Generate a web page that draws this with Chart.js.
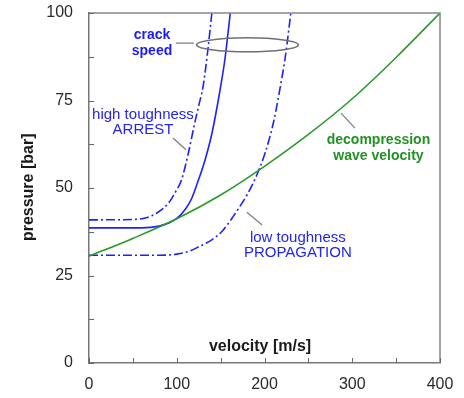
<!DOCTYPE html>
<html><head><meta charset="utf-8">
<script src="https://cdn.jsdelivr.net/npm/chart.js@4/dist/chart.umd.min.js"></script>
<style>html,body{margin:0;padding:0;background:#fff;}canvas{display:block;}</style>
</head><body>
<canvas id="c" width="464" height="398"></canvas>
<script>
// ---- data ----
const greenX = [0, 50, 100, 150, 200, 250, 300, 350, 400];
const greenY = [30.5, 35.6, 41.2, 48, 56.2, 65.3, 75.5, 87.3, 100];

const solidX = [0, 60, 80, 90, 100, 110, 117, 125, 132, 140, 149, 155, 161];
const solidY = [38.6, 38.6, 39.1, 39.9, 41.3, 44, 47, 52.5, 57.8, 65.5, 77.5, 87, 100];

const upperX = [0, 50, 65, 77, 90, 100, 105, 110, 115, 120, 125, 130, 135, 140];
const upperY = [40.9, 41, 41.5, 42.8, 45.5, 49.5, 52, 56.5, 62, 68, 73.5, 79, 88.5, 100];

const lowerX = [0, 80, 100, 115, 125, 140, 150, 160, 170, 180, 190, 200, 210, 217, 224, 230];
const lowerY = [30.8, 30.8, 31.1, 32, 33.2, 35.2, 37.2, 40.3, 44, 48, 53, 59.5, 68.5, 77.5, 88, 100];

const xTickLabels = [0, 100, 200, 300, 400];
const yTickLabels = [0, 25, 50, 75, 100];

// annotations (data units)
const notes = [
  {lines: ['crack', 'speed'], x: 71.8, y: [93.7, 89.0], color: '#1a1aff', bold: true, size: 14},
  {lines: ['high toughness', 'ARREST'], x: 61.5, y: [70.9, 66.6], color: '#2424f0', bold: false, size: 15},
  {lines: ['low toughness', 'PROPAGATION'], x: 238, y: [35.7, 31.4], color: '#2424f0', bold: false, size: 15},
  {lines: ['decompression', 'wave velocity'], x: 329.9, y: [63.7, 59.2], color: '#239123', bold: true, size: 14}
];
const leaders = [
  [99.1, 91.4, 119.7, 91.4],
  [95.7, 64.3, 110.5, 60.9],
  [180, 43.1, 197.2, 39.4],
  [287.2, 71.4, 303.1, 67.1]
];
const ellipse = {cx: 180.6, cy: 90.9, rx: 58.1, ry: 2.0};

const toPts = (xs, ys) => xs.map((x, i) => ({x: x, y: ys[i]}));
const FONT = '"Liberation Sans", Arial, sans-serif';
const BLUE = '#1f1fff';
const dashDot = [9, 3, 2, 3];

const extras = {
  id: 'extras',
  afterDraw(chart) {
    const ctx = chart.ctx, xs = chart.scales.x, ys = chart.scales.y, a = chart.chartArea;
    const px = v => xs.getPixelForValue(v), py = v => ys.getPixelForValue(v);
    ctx.save();
    // frame
    ctx.strokeStyle = '#888'; ctx.lineWidth = 1.5;
    ctx.beginPath();
    ctx.moveTo(a.left, a.top); ctx.lineTo(a.right, a.top); ctx.lineTo(a.right, a.bottom);
    ctx.stroke();
    // inward ticks
    ctx.strokeStyle = '#666'; ctx.lineWidth = 1;
    ctx.beginPath();
    for (let v = 0; v <= 400; v += 50) { const x = Math.round(px(v)) + 0.5; ctx.moveTo(x, a.bottom); ctx.lineTo(x, a.bottom - 5); }
    for (let v = 0; v <= 100; v += 12.5) { const y = Math.round(py(v)) + 0.5; ctx.moveTo(a.left, y); ctx.lineTo(a.left + 5, y); }
    ctx.stroke();
    // ellipse
    ctx.strokeStyle = '#707070'; ctx.lineWidth = 1.5;
    ctx.beginPath();
    ctx.ellipse(px(ellipse.cx), py(ellipse.cy), px(ellipse.cx + ellipse.rx) - px(ellipse.cx), py(ellipse.cy) - py(ellipse.cy + ellipse.ry), 0, 0, Math.PI * 2);
    ctx.stroke();
    // leader lines
    ctx.strokeStyle = '#808080'; ctx.lineWidth = 1.3;
    leaders.forEach(l => { ctx.beginPath(); ctx.moveTo(px(l[0]), py(l[1])); ctx.lineTo(px(l[2]), py(l[3])); ctx.stroke(); });
    // annotation text
    ctx.textAlign = 'center'; ctx.textBaseline = 'middle';
    notes.forEach(n => {
      ctx.fillStyle = n.color;
      ctx.font = (n.bold ? 'bold ' : '') + n.size + 'px ' + FONT;
      n.lines.forEach((t, i) => ctx.fillText(t, px(n.x), py(n.y[i])));
    });
    // axis titles
    ctx.fillStyle = '#1a1a1a';
    ctx.font = 'bold 16px ' + FONT;
    ctx.fillText('velocity [m/s]', px(194.9), py(4.6));
    ctx.translate(29, py(50.2));
    ctx.rotate(-Math.PI / 2);
    ctx.fillText('pressure [bar]', 0, 0);
    ctx.restore();
  }
};

new Chart(document.getElementById('c'), {
  type: 'scatter',
  data: {
    datasets: [
      {data: toPts(greenX, greenY), showLine: true, borderColor: '#2a9a2a', borderWidth: 1.6, pointRadius: 0, cubicInterpolationMode: 'monotone'},
      {data: toPts(lowerX, lowerY), showLine: true, borderColor: BLUE, borderWidth: 1.6, borderDash: dashDot, pointRadius: 0, cubicInterpolationMode: 'monotone'},
      {data: toPts(upperX, upperY), showLine: true, borderColor: BLUE, borderWidth: 1.6, borderDash: dashDot, pointRadius: 0, cubicInterpolationMode: 'monotone'},
      {data: toPts(solidX, solidY), showLine: true, borderColor: BLUE, borderWidth: 1.6, pointRadius: 0, cubicInterpolationMode: 'monotone'}
    ]
  },
  options: {
    responsive: false, animation: false, devicePixelRatio: 1,
    layout: {padding: {left: 0, right: 24, top: 13, bottom: 0}},
    plugins: {legend: {display: false}, tooltip: {enabled: false}},
    scales: {
      x: {
        type: 'linear', min: 0, max: 400,
        grid: {display: false},
        border: {display: true, color: '#777', width: 1.5},
        ticks: {stepSize: 50, autoSkip: false, maxRotation: 0, padding: 4, color: '#2a2a2a', font: {family: FONT, size: 16},
          callback: v => xTickLabels.includes(v) ? String(v) : ''},
        afterFit: s => { s.height = 35; s.paddingLeft = 0; s.paddingRight = 0; }
      },
      y: {
        type: 'linear', min: 0, max: 100,
        grid: {display: false},
        border: {display: true, color: '#777', width: 1.5},
        ticks: {stepSize: 12.5, autoSkip: false, padding: 8, color: '#2a2a2a', font: {family: FONT, size: 16},
          callback: v => yTickLabels.includes(v) ? String(v) : ''},
        afterFit: s => { s.width = 89; s.paddingTop = 0; s.paddingBottom = 0; }
      }
    }
  },
  plugins: [extras]
});
</script>
</body></html>
